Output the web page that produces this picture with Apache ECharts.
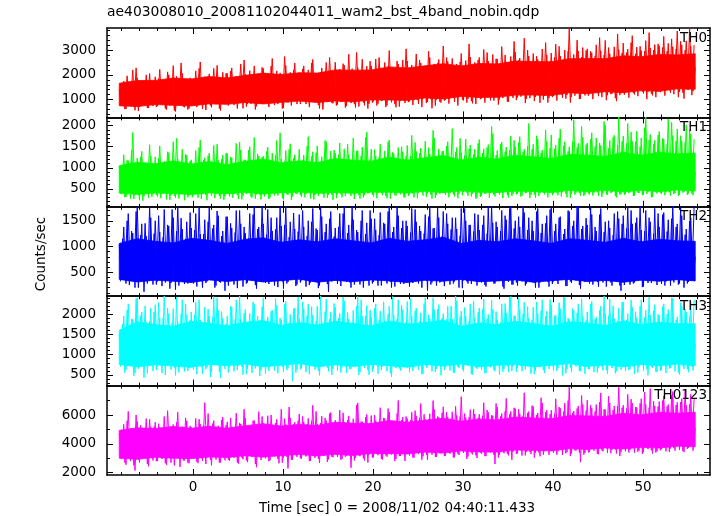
<!DOCTYPE html>
<html><head><meta charset="utf-8">
<script src="https://cdn.jsdelivr.net/npm/echarts@6/dist/echarts.min.js"></script>
<style>html,body{margin:0;padding:0;background:#fff}#c{width:717px;height:516px}</style>
</head><body><div id="c"></div>
<script>
const chartTitle = 'ae403008010_20081102044011_wam2_bst_4band_nobin.qdp';
const xTitle = 'Time [sec] 0 = 2008/11/02 04:40:11.433';
const yTitle = 'Counts/sec';
const bandNames = ['TH0', 'TH1', 'TH2', 'TH3', 'TH0123'];
const xTickLabels = [0, 10, 20, 30, 40, 50];
const yTickLabels = [[1000, 2000, 3000], [500, 1000, 1500, 2000], [500, 1000, 1500], [500, 1000, 1500, 2000], [2000, 4000, 6000]];
const yRanges = [[283, 3890], [75, 2196], [33, 1772], [239, 2439], [1840, 8040]];
const xRange = [-9.56, 57.44];
// samples: "a" points at tStart + i*tStep, "b" points half a step later, core envelope every coreStep
const tStart = -8.2, tStep = 0.25, coreStep = 2;

const th0 = [
1400,760,1750,620,1720,800,2200,570,1880,710,1640,830,2000,660,1770,740,
1920,740,2220,830,1780,600,2000,770,2370,520,1840,820,2060,690,1720,640,
1840,770,2160,860,2520,620,1930,900,2040,690,2260,810,1820,560,2100,880,
2060,890,2280,780,1940,960,2440,650,2020,820,2170,910,2360,730,1920,840,
2260,840,2040,930,2660,780,2160,1000,1960,660,2380,880,2100,950,2480,820,
2080,960,2360,820,2200,1030,2620,900,2040,640,2280,990,2500,920,2140,850,
2510,800,2230,920,2390,740,2830,860,2170,680,2290,950,2630,770,2350,830,
2360,930,2640,840,2280,970,2500,770,2980,890,2220,690,2440,950,2600,860,
2560,930,2400,990,2840,830,2480,1060,2320,910,2700,650,2440,1000,2620,880,
3160,990,2540,1050,2660,910,2440,1110,2860,970,2580,1030,2720,850,2500,1070,
2700,1050,3020,1130,2560,970,2820,1090,2640,1010,3140,1170,2520,910,2740,1070,
2920,1090,2680,1170,3480,1030,2760,1210,2860,1110,2620,870,3040,1150,2800,1070,
2880,1150,3240,1230,2760,1070,3000,1190,3860,1110,2820,1250,2960,1030,3100,1170,
3050,1220,2890,1280,3210,1140,2970,1320,3390,1180,2850,1240,3130,940,3010,1260,
3280,1290,3040,1350,3580,1210,3120,1390,2980,1250,3380,1310,3080,1170,3220,1330,
3170,1360,3550,1420,3270,1280,3130,1460,3770,1320,3210,1040,3370,1400,3150,1340,
2300];
const th0b = [
780,1500,620,1960,850,1610,700,2280,540,1720,910,1580,660,2050,800,1690,
700,1850,900,1560,640,2120,760,1680,560,1940,880,2480,720,1620,600,1880,
820,1650,700,2260,900,1720,580,1950,760,1600,860,2380,640,1780,920,2060,
760,2150,880,1700,640,1880,950,2600,720,1760,830,2020,600,1820,900,2300,
880,1820,700,2350,960,1760,820,2080,640,2740,900,1850,760,2200,980,1780,
820,2240,940,1900,700,2480,1000,1830,780,2100,600,1960,900,2700,860,1880,
760,1980,900,2450,680,1900,960,2250,820,2900,720,1950,880,2150,640,2550,
880,2100,760,2700,940,2000,700,2350,1000,1980,820,2560,720,2120,960,3050,
900,2250,780,2080,980,2600,700,2200,860,2950,1020,2150,760,2480,920,2120,
960,2700,840,2300,1080,2150,760,2520,1000,2250,880,3250,940,2380,820,2600,
1020,2450,880,2900,1100,2300,960,2650,800,2380,1060,2800,920,2480,1140,3350,
980,2600,1120,2420,860,3000,1060,2500,940,2750,1180,2450,1000,3300,880,2560,
1100,2700,960,3150,1200,2600,1040,2950,880,2650,1160,3400,1020,2720,1240,2980,
1160,2950,1020,2750,1260,3500,1100,2800,980,3100,1220,2720,1060,3650,1180,2880,
1200,2900,1080,3300,1260,2850,1140,3150,1320,2960,1020,3700,1240,3000,1100,3250,
1300,3100,1160,2950,1380,3450,1220,3050,1100,3350,1280,3000,1400,3850,1180,3200];
const th0Lo = [750,720,800,775,745,830,810,885,825,890,940,885,945,910,990,985,970,1070,1030,1130,1090,1095,1185,1185,1165,1280,1240,1320,1280,1365,1335,1435,1420];
const th0Hi = [1660,1770,1775,1870,1830,1930,1875,1980,2070,2010,2085,2070,2200,2190,2195,2320,2280,2365,2450,2360,2460,2440,2555,2540,2525,2650,2655,2650,2770,2725,2820,2805,2850];

const th1 = [
1040,390,1310,310,1170,270,1840,360,1230,230,1390,330,1120,290,1280,380,
1260,320,1520,380,1150,250,1360,350,1620,290,1210,400,1440,230,1300,340,
1190,350,1410,290,1660,400,1240,230,1350,340,1530,380,1180,270,1300,320,
1340,320,1240,380,1580,260,1420,340,1180,410,1500,290,1720,370,1280,250,
1270,370,1490,290,1350,340,1650,400,1210,250,1410,360,1570,320,1310,380,
1440,320,1300,380,1740,270,1380,350,1520,400,1260,290,1620,360,1400,240,
1350,370,1590,300,1450,410,1310,330,1710,380,1410,270,1490,350,1850,400,
1440,320,1280,400,1560,350,1400,280,1660,410,1340,340,1480,370,1380,300,
1530,370,1770,300,1390,410,1470,340,1630,390,1330,270,1710,360,1450,420,
1400,360,1620,400,1930,320,1480,380,1360,430,1680,340,1540,390,1440,300,
1670,340,1450,390,1550,410,1810,320,1410,370,1610,430,1490,300,1750,380,
1500,380,1740,340,1440,410,2050,360,1560,290,1680,400,1420,370,1620,420,
1780,390,1540,350,1920,420,1620,300,1500,380,2140,410,1580,340,1720,370,
1590,370,1830,410,1710,330,1530,390,2010,360,1650,420,1770,300,2230,380,
1750,380,2050,420,1630,340,1870,400,1710,360,2230,430,1790,310,1650,390,
1860,380,1680,420,2160,340,1760,400,1920,360,1640,430,2020,390,1800,350,
900];
const th1b = [
380,980,300,1180,420,1420,260,1080,350,1260,220,1120,400,1550,310,1020,
350,1230,280,1050,410,1380,240,1140,330,1700,270,1090,380,1320,300,1160,
300,1100,390,1480,260,1180,350,1290,420,1040,280,1560,330,1210,240,1350,
400,1260,290,1130,350,1610,250,1190,380,1420,320,1070,270,1330,360,1250,
320,1390,260,1160,400,1290,340,1830,280,1150,370,1440,240,1230,390,1100,
350,1180,300,1510,420,1270,250,1360,330,1140,380,1650,290,1210,360,1420,
280,1310,370,1200,330,1560,410,1150,260,1400,350,1280,300,1720,390,1190,
360,1430,280,1250,400,1180,330,1620,270,1370,350,1230,420,1500,300,1280,
330,1280,390,1600,280,1350,420,1200,310,1480,360,1890,290,1260,380,1390,
400,1520,300,1250,370,1380,280,1700,350,1290,410,1450,320,1320,260,1580,
310,1350,380,1480,290,1980,360,1300,410,1560,280,1380,350,1420,330,1650,
370,1600,320,1380,400,1510,280,1440,360,1760,330,1350,410,1900,300,1470,
350,1450,410,1700,320,1520,380,1390,290,1620,360,1480,400,1980,330,1550,
390,1680,340,1500,420,1590,310,2100,370,1460,400,1720,330,1540,360,1630,
360,1580,400,1850,330,1620,410,1500,350,1950,380,1660,300,1560,420,1780,
400,1700,350,1560,420,2080,380,1640,330,1760,410,1600,360,1900,390,1680];
const th1Lo = [400,370,405,390,365,405,385,420,380,410,425,395,415,395,425,420,400,445,410,455,420,415,445,440,415,465,430,465,430,465,435,475,450];
const th1Hi = [1050,1130,1095,1165,1090,1150,1075,1155,1210,1120,1165,1125,1220,1180,1155,1255,1180,1240,1295,1185,1250,1210,1300,1260,1220,1320,1300,1270,1370,1300,1370,1330,1350];

const th2 = [
1040,360,1380,280,1640,410,1260,200,1790,330,1440,120,1200,370,1560,260,
1500,320,1280,230,1720,380,1400,290,1560,160,1800,350,1340,270,1480,400,
1360,280,1640,360,1240,200,1520,320,1760,410,1420,240,1600,300,1300,140,
1580,340,1360,260,1700,380,1440,220,1260,300,1640,360,1780,180,1380,320,
1440,290,1720,370,1300,240,1560,330,1400,180,1800,310,1480,390,1340,260,
1620,340,1380,220,1500,300,1740,380,1320,240,1580,320,1440,120,1680,360,
1360,270,1640,350,1780,310,1420,200,1520,380,1280,260,1700,330,1460,240,
1540,310,1320,240,1660,360,1440,280,1800,200,1380,330,1600,270,1500,380,
1400,220,1740,340,1480,280,1300,360,1620,140,1790,300,1360,240,1560,320,
1680,360,1440,260,1560,320,1340,200,1740,340,1500,280,1420,380,1640,240,
1320,300,1600,220,1780,360,1460,280,1380,330,1700,180,1520,310,1800,260,
1500,240,1380,320,1660,280,1560,360,1300,200,1740,300,1440,340,1600,220,
1760,320,1440,270,1580,360,1340,230,1680,290,1500,340,1800,180,1400,310,
1420,280,1620,340,1300,220,1740,300,1480,360,1360,240,1640,320,1540,140,
1600,330,1780,260,1440,300,1560,370,1320,220,1700,290,1480,340,1740,250,
1380,270,1660,320,1520,240,1800,360,1440,280,1600,200,1340,310,1560,340,
800];
const th2b = [
320,1150,420,1500,250,1300,380,1680,200,1220,340,1450,280,1780,400,1250,
260,1600,350,1180,300,1420,180,1720,390,1300,240,1550,330,1150,280,1660,
380,1320,220,1760,340,1240,290,1480,410,1350,200,1690,310,1200,360,1580,
240,1450,330,1270,190,1700,370,1380,280,1160,350,1620,250,1340,400,1780,
350,1230,270,1560,390,1330,210,1800,320,1420,280,1180,360,1650,230,1290,
300,1700,380,1200,250,1480,340,1350,190,1760,400,1280,270,1540,320,1190,
410,1380,230,1640,350,1260,300,1780,260,1320,370,1500,200,1240,340,1700,
280,1540,360,1220,240,1460,390,1680,310,1280,220,1800,350,1360,270,1500,
340,1270,290,1720,380,1400,200,1250,330,1580,260,1350,400,1760,300,1200,
230,1640,370,1330,280,1560,350,1210,190,1740,320,1420,270,1290,390,1620,
360,1420,250,1250,330,1780,280,1480,400,1300,220,1600,340,1740,260,1350,
300,1580,380,1800,240,1320,350,1500,290,1680,200,1260,370,1450,310,1720,
270,1300,340,1560,400,1240,230,1700,320,1400,360,1780,250,1340,380,1550,
390,1760,260,1380,310,1620,350,1280,220,1500,300,1220,410,1680,240,1440,
250,1350,330,1700,280,1460,380,1800,210,1300,360,1560,290,1250,340,1640,
330,1620,240,1290,390,1540,300,1380,260,1760,350,1230,280,1500,370,1800];
const th2Lo = [360,310,345,325,300,350,320,355,310,335,365,305,340,315,350,330,300,345,325,360,315,330,350,305,335,360,320,340,305,345,325,355,330];
const th2Hi = [1060,1150,1100,1070,1160,1120,1060,1140,1170,1080,1130,1090,1150,1110,1070,1160,1100,1130,1180,1060,1120,1090,1150,1110,1060,1150,1120,1080,1160,1090,1140,1110,1100];

const th3 = [
1500,750,1950,630,2250,800,1870,550,2400,690,2050,430,1790,770,2150,600,
2230,710,1890,550,2450,770,2010,630,2130,490,1810,730,2350,590,1970,670,
2050,630,2300,750,1850,530,2170,690,1950,570,2430,790,2090,430,1890,650,
1950,690,2170,590,2350,730,1870,510,2110,650,2010,550,2250,770,1830,610,
2400,530,1930,710,2090,610,2210,750,1850,570,2310,670,1990,350,2150,630,
1890,670,2130,570,2250,730,1970,630,2190,490,1810,710,2370,590,2050,650,
2170,610,2010,690,2330,550,1870,650,2090,730,2430,570,1950,670,2210,510,
1930,650,2250,530,2070,710,1830,590,2190,450,1970,670,2350,610,2110,730,
2310,570,1950,690,2150,630,2030,530,2400,710,1890,590,2110,650,2230,490,
2010,690,2190,610,1870,550,2330,670,2070,590,1950,730,2250,510,1890,650,
2150,630,2370,550,1990,690,2110,590,1850,510,2250,650,2030,570,2430,710,
1950,670,2110,590,2290,730,1890,530,2170,610,2010,690,2350,550,2070,650,
2230,610,1970,670,2130,490,2410,650,1870,570,2090,710,2250,590,1950,530,
2050,650,2310,570,1930,690,2190,610,2010,530,2370,670,1890,590,2150,630,
2290,590,2010,650,2170,530,1910,690,2350,610,2090,490,1970,670,2230,570,
1970,630,2250,550,2110,670,2390,590,1930,510,2190,650,2050,570,2310,610,
1250];
const th3b = [
700,1750,560,2100,820,1880,480,2380,650,1960,760,2200,540,1820,880,2050,
620,2280,740,1900,500,2150,820,1780,680,2420,560,2000,780,2250,600,1850,
760,1980,520,2350,700,1800,640,2120,450,1920,840,2400,580,2060,720,1760,
560,2200,800,1870,620,2450,700,2020,520,1790,760,2300,660,1950,480,2180,
740,1830,600,2070,860,2380,540,1900,700,2240,620,1780,800,2130,560,2420,
640,2300,780,1960,520,2180,720,1820,600,2440,840,2060,680,1880,500,2260,
820,1900,560,2420,700,2040,640,1790,780,2200,500,2350,740,1960,620,2100,
580,2150,740,1850,620,2300,800,2000,540,2430,700,1880,660,2220,760,1810,
700,2380,600,2080,760,1830,520,2260,680,1980,820,2400,580,2120,720,1900,
620,1870,780,2200,560,2450,700,1940,640,2160,760,1820,520,2320,680,2050,
760,2120,540,1880,700,2340,620,2060,800,1790,580,2260,720,2420,600,1960,
580,2400,720,2000,640,2180,760,1850,520,2300,700,2080,620,1940,780,2360,
720,1960,600,2280,780,2420,540,1900,680,2140,760,2020,600,2380,700,1840,
640,2250,760,1880,560,2100,700,2440,620,1960,800,2200,540,1820,720,2300,
780,1850,620,2350,700,2060,560,2200,760,1920,640,2420,700,2080,580,1990,
600,2180,740,2000,660,2400,780,1860,560,2280,720,2120,640,1940,700,2350];
const th3Lo = [760,700,750,720,690,760,730,770,700,740,780,700,750,710,760,730,690,760,720,770,700,740,760,700,740,780,710,750,700,760,730,770,730];
const th3Hi = [1600,1810,1740,1700,1820,1780,1710,1800,1840,1720,1790,1730,1820,1770,1710,1830,1750,1790,1850,1700,1780,1740,1820,1770,1700,1810,1780,1720,1830,1740,1800,1760,1760];

const th0123 = [
4750,2950,5350,2550,6250,2800,5050,2150,5550,2700,4950,3050,5750,2450,5200,2850,
5500,2800,5150,2950,5900,2550,5000,2700,5350,3050,6200,2400,5200,2850,5600,2650,
5160,2960,5760,2660,5360,2810,6860,3060,5060,2510,5610,2910,5260,2710,5860,2860,
5530,2830,5180,3030,6130,2630,5380,2930,5780,2730,5080,3080,5630,2380,6230,2880,
5400,3000,5950,2850,5250,3150,5700,2650,6400,3050,5350,2300,5800,2900,5500,3100,
6070,2970,5520,3120,5770,2820,6670,3020,5370,2670,5920,3170,5620,2920,6170,3070,
5640,3090,6340,2940,5490,3190,5940,2340,5740,3040,6840,3140,5540,2840,6040,3240,
5960,3060,5610,3210,6510,2910,5760,3110,6210,3260,5560,2960,7010,3160,5860,2810,
5740,3190,6190,3040,5940,3290,6790,3140,5690,2890,6090,3240,6390,3090,5840,3340,
6570,3170,5870,3320,6220,3070,5970,3220,7270,3370,5820,3120,6370,3270,6070,3020,
6050,3300,6850,3150,6200,3400,5950,2600,6550,3250,6100,3350,7150,3200,6250,3450,
6440,3340,6090,3190,7540,3440,6240,3290,6590,3390,6140,3140,6840,3490,6340,3240,
6330,3380,7130,3480,6480,3230,6830,3430,7930,3330,6280,3530,6630,2730,6730,3380,
7030,3430,6480,3530,6730,3280,7530,3480,6380,3380,6830,3580,6630,3330,7930,3430,
6680,3480,7430,3580,6830,3380,6530,3530,7130,3430,6730,3630,7830,3330,6630,3480,
6930,3630,7330,3480,6730,3680,7630,3530,6880,3580,7130,3430,6680,3730,7430,3530,
5100];
const th0123b = [
3000,4900,2700,5600,3200,5100,2500,6000,2900,5300,3100,4800,2600,5700,3000,5200,
2800,5400,3150,5000,2650,6300,3000,5150,2500,5500,3100,4950,2850,5800,2700,5250,
3100,5050,2750,5700,3000,5250,2600,6100,2900,5400,3150,4950,2700,5650,3050,5300,
2900,5800,3200,5150,2700,5450,3050,6400,2850,5200,3250,5600,2600,5300,3100,5900,
3150,5300,2800,6000,3250,5450,2950,5200,2700,5750,3100,6550,2900,5350,3200,5600,
3000,5900,3300,5350,2800,5600,3150,6250,2950,5450,3350,5800,2750,6100,3100,5400,
3250,5500,2900,6150,3100,5650,3350,5400,2850,6700,3200,5550,3000,5850,2700,5450,
3050,6000,3300,5500,2950,5800,3200,6450,3400,5600,2800,6100,3150,5650,3350,5900,
3300,5650,3050,6300,3400,5800,2900,6050,3250,5700,3450,7000,3100,5900,3350,6150,
3150,6200,3400,5750,3050,6600,3300,5900,3500,6100,2950,5850,3350,6400,3200,5800,
3400,5950,3150,6350,3450,6000,3250,6800,3050,5900,3500,6250,3300,6050,2900,6500,
3300,6400,3550,5950,3200,6150,3450,6650,3050,6000,3400,7200,3250,6200,3600,6050,
3500,6100,3250,6550,3600,6250,3350,7000,3150,6150,3550,6450,3400,7350,3250,6300,
3400,6700,3650,6250,3300,6900,3550,6400,3700,7300,3350,6350,3600,6600,3150,6500,
3650,6450,3400,7100,3700,6550,3450,6800,3300,7600,3750,6500,3550,6950,3400,6600,
3550,7000,3800,6600,3450,7350,3700,6700,3850,6900,3500,7700,3650,6750,3900,7150];
const th0123Lo = [3010,2930,3070,3010,2980,3090,3060,3180,3080,3180,3270,3160,3280,3190,3340,3320,3300,3430,3370,3510,3440,3430,3570,3550,3510,3670,3610,3720,3650,3760,3710,3840,3800];
const th0123Hi = [4940,5110,5060,5210,5080,5220,5090,5260,5400,5230,5350,5280,5500,5430,5410,5620,5500,5640,5770,5570,5730,5660,5860,5800,5740,5960,5940,5900,6120,6010,6180,6130,6200];

const seriesA = [th0, th1, th2, th3, th0123];
const seriesB = [th0b, th1b, th2b, th3b, th0123b];
const coreLows = [th0Lo, th1Lo, th2Lo, th3Lo, th0123Lo];
const coreHighs = [th0Hi, th1Hi, th2Hi, th3Hi, th0123Hi];

// ---- styling / layout ----
const colors = ['#ff0000', '#00ff00', '#0000ff', '#00ffff', '#ff00ff'];
const yMinorStep = [200, 100, 100, 100, 1000];
const FONT = 'DejaVu Sans';
const FS = 13.5;
const LEFT = 107, RIGHT = 7, TOP = 28, PH = 89.4;

function minorList(lo, hi, step) {
  const out = [];
  for (let v = Math.ceil(lo / step) * step; v <= hi + 1e-9; v += step) out.push(+v.toFixed(6));
  return out;
}
const xMinor = minorList(-8, 56, 2);

const grids = [], xAxes = [], yAxes = [], series = [], graphics = [];
for (let g = 0; g < 5; g++) {
  const top = TOP + g * PH;
  const color = colors[g];
  grids.push({ left: LEFT, right: RIGHT, top: top, height: PH, containLabel: false });
  const [ymin, ymax] = yRanges[g];
  const yMinor = minorList(ymin, ymax, yMinorStep[g]);
  const mkX = (pos, major, showLabel) => ({
    type: 'value', gridIndex: g, position: pos, min: xRange[0], max: xRange[1],
    axisLine: { show: major, onZero: false, lineStyle: { color: '#000', width: 1.5 } },
    axisTick: { show: true, inside: true, length: major ? 6 : 3, customValues: major ? xTickLabels : xMinor, lineStyle: { color: '#000', width: 1 } },
    axisLabel: { show: showLabel, customValues: xTickLabels, color: '#000', fontSize: FS, fontFamily: FONT, margin: 5, formatter: v => String(v) },
    splitLine: { show: false }
  });
  xAxes.push(mkX('bottom', true, g === 4), mkX('bottom', false, false), mkX('top', true, false), mkX('top', false, false));
  const mkY = (pos, major, showLabel) => ({
    type: 'value', gridIndex: g, position: pos, min: ymin, max: ymax,
    axisLine: { show: major, onZero: false, lineStyle: { color: '#000', width: 1.5 } },
    axisTick: { show: true, inside: true, length: major ? 6 : 3, customValues: major ? yTickLabels[g] : yMinor, lineStyle: { color: '#000', width: 1 } },
    axisLabel: { show: showLabel, customValues: yTickLabels[g], color: '#000', fontSize: FS, fontFamily: FONT, margin: 11, formatter: v => String(v) },
    splitLine: { show: false }
  });
  yAxes.push(mkY('left', true, true), mkY('left', false, false), mkY('right', true, false), mkY('right', false, false));

  // dense core of the light curve: filled band between the read lower/upper envelopes
  const coreData = coreLows[g].map((lo, j) => [+(tStart + j * coreStep).toFixed(4), lo, coreHighs[g][j]]);
  series.push({
    type: 'custom', xAxisIndex: 4 * g, yAxisIndex: 4 * g, silent: true, clip: true,
    encode: { x: 0, y: [1, 2] },
    data: coreData,
    renderItem: function (params, api) {
      const i = params.dataIndexInside;
      if (i >= params.dataInsideLength - 1) return null;
      const a = api.coord([api.value(0, i), api.value(1, i)]);
      const b = api.coord([api.value(0, i + 1), api.value(1, i + 1)]);
      const c = api.coord([api.value(0, i + 1), api.value(2, i + 1)]);
      const d = api.coord([api.value(0, i), api.value(2, i)]);
      return { type: 'polygon', shape: { points: [a, b, c, d] }, style: { fill: color, stroke: color, lineWidth: 0.8 } };
    }
  });
  series.push({
    type: 'line', xAxisIndex: 4 * g, yAxisIndex: 4 * g, silent: true, symbol: 'none',
    lineStyle: { color: color, width: 1 },
    data: seriesA[g].map((v, i) => [+(tStart + i * tStep).toFixed(4), v])
  });
  series.push({
    type: 'line', xAxisIndex: 4 * g, yAxisIndex: 4 * g, silent: true, symbol: 'none',
    lineStyle: { color: color, width: 1 },
    data: seriesB[g].map((v, i) => [+(tStart + tStep / 2 + i * tStep).toFixed(4), v])
  });
  graphics.push({
    type: 'text', right: 10, top: top + 3, z: 100,
    style: { text: bandNames[g], font: FS + 'px "' + FONT + '"', fill: '#000' }
  });
}
graphics.push({ type: 'text', left: LEFT, top: 5, z: 100, style: { text: chartTitle, font: '13.9px "' + FONT + '"', fill: '#000' } });
graphics.push({ type: 'text', x: 41, y: 254, rotation: Math.PI / 2, z: 100, style: { text: yTitle, font: FS + 'px "' + FONT + '"', fill: '#000', textAlign: 'center', textVerticalAlign: 'middle' } });
graphics.push({ type: 'text', x: 397, y: 508, z: 100, style: { text: xTitle, font: FS + 'px "' + FONT + '"', fill: '#000', textAlign: 'center', textVerticalAlign: 'middle' } });

const chart = echarts.init(document.getElementById('c'), null, { renderer: 'canvas' });
chart.setOption({
  animation: false,
  backgroundColor: '#fff',
  grid: grids,
  xAxis: xAxes,
  yAxis: yAxes,
  series: series,
  graphic: graphics
});
</script></body></html>
